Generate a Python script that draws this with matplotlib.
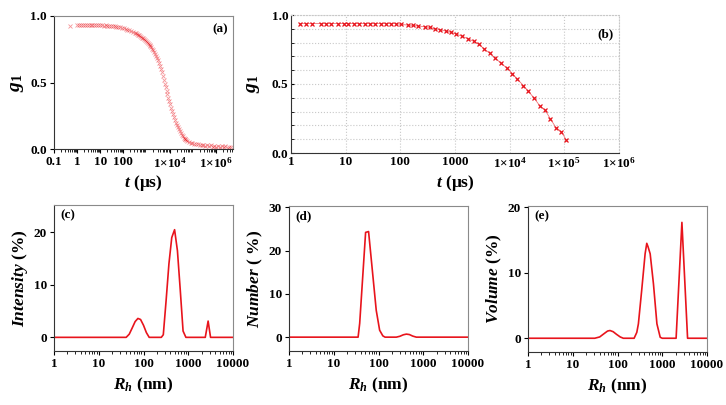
import numpy as np
import matplotlib
matplotlib.use("Agg")
import matplotlib.pyplot as plt
from matplotlib.ticker import FixedLocator, LogLocator, NullFormatter

# fuentes tipo Times
plt.rcParams["font.family"] = ["Liberation Serif", "DejaVu Serif"]
plt.rcParams["font.weight"] = "bold"
plt.rcParams["mathtext.fontset"] = "custom"
plt.rcParams["mathtext.rm"] = "Liberation Serif"
plt.rcParams["mathtext.it"] = "Liberation Serif:italic"
plt.rcParams["mathtext.bf"] = "Liberation Serif:bold"
plt.rcParams["mathtext.bfit"] = "Liberation Serif:bold:italic"

ROJO = "#e8141c"

# (a) funcion de correlacion completa
t_a = [0.5, 1.0, 1.2, 1.5, 1.8, 2.2, 2.6, 3.2, 3.8, 4.6,
       5.5, 6.6, 8, 9.6, 11.5, 14, 17, 20, 24, 29,
       35, 42, 50, 60, 72, 87, 105, 125, 150, 180,
       220, 260, 320, 360,
       400, 440, 480, 530, 580, 640, 700, 770, 850, 930,
       1020, 1120, 1230, 1350, 1480, 1630, 1790, 1970, 2160, 2380,
       2610, 2870, 3150, 3460, 3800, 4180, 4590, 5040, 5540, 6090,
       6690, 7350, 8070, 8870, 9750, 10700, 11800, 12900, 14200, 15600,
       17200, 18900, 20700, 22800, 25000, 27500, 30200, 33200, 36500, 40100,
       44000, 48400, 53200, 58400,
       66000, 80000, 96000, 115000, 140000, 170000, 200000, 240000, 290000,
       350000, 420000, 500000, 600000, 720000, 870000, 1050000, 1250000, 1500000, 1800000,
       2200000, 2600000, 3200000, 3800000, 4600000]
g_a = [0.925, 0.935, 0.933, 0.936, 0.932, 0.934, 0.931, 0.935, 0.932, 0.930,
       0.933, 0.931, 0.932, 0.929, 0.931, 0.928, 0.930, 0.927, 0.928, 0.925,
       0.924, 0.922, 0.920, 0.917, 0.915, 0.912, 0.908, 0.903, 0.898, 0.893,
       0.887, 0.882, 0.874, 0.869,
       0.864, 0.859, 0.855, 0.849, 0.844, 0.838, 0.833, 0.827, 0.821, 0.812,
       0.805, 0.797, 0.789, 0.781, 0.773, 0.764, 0.754, 0.742, 0.730, 0.716,
       0.701, 0.686, 0.668, 0.649, 0.627, 0.604, 0.577, 0.549, 0.520, 0.492,
       0.466, 0.439, 0.413, 0.387, 0.363, 0.339, 0.312, 0.288, 0.264, 0.241,
       0.218, 0.198, 0.180, 0.163, 0.147, 0.133, 0.119, 0.107, 0.095, 0.086,
       0.078, 0.072, 0.066, 0.061,
       0.055, 0.048, 0.043, 0.038, 0.034, 0.036, 0.030, 0.028, 0.033,
       0.025, 0.030, 0.022, 0.028, 0.018, 0.026, 0.015, 0.024, 0.012, 0.022,
       0.014, 0.020, 0.010, 0.018, 0.012]

# (b) ajuste
t_b = [1.44, 1.91, 2.44, 3.47, 4.35, 5.3, 7.2, 9.3, 11.2, 14.2,
       17.8, 22.4, 27.7, 34.7, 44, 54, 67, 83, 103, 136,
       169, 208, 277, 342, 435, 537, 673, 857, 1059, 1365,
       1735, 2207, 2729, 3420, 4345, 5370, 6920, 9050, 11200, 13800,
       17850, 22100, 28400, 35200, 44700, 55200, 70300, 88100, 107400]
g_b = [0.938, 0.938, 0.938, 0.938, 0.938, 0.938, 0.938, 0.938, 0.938, 0.938,
       0.938, 0.938, 0.938, 0.938, 0.938, 0.938, 0.938, 0.938, 0.932, 0.927,
       0.925, 0.920, 0.915, 0.910, 0.901, 0.893, 0.884, 0.874, 0.862, 0.845,
       0.828, 0.809, 0.787, 0.755, 0.722, 0.690, 0.651, 0.613, 0.576, 0.535,
       0.489, 0.446, 0.395, 0.344, 0.310, 0.249, 0.184, 0.155, 0.097]

# (c) intensidad
r_c = [1, 41, 48, 56, 65, 75, 86, 100, 116, 134, 250, 277, 320, 370, 428, 495,
       573, 663, 766, 886, 2400, 2780, 3150, 10000]
i_c = [0, 0, 0.6, 1.8, 3.0, 3.6, 3.4, 2.3, 0.9, 0, 0, 0.5, 7, 14, 19, 20.5,
       16.5, 9, 1.2, 0, 0, 3.1, 0, 0]

# (d) numero
r_d = [1, 35, 38, 51.5, 60, 71.5, 89, 106, 125, 140, 250, 300, 360, 420, 490, 580, 700, 10000]
n_d = [0, 0, 3.2, 24.2, 24.4, 16.3, 6.2, 1.6, 0.3, 0, 0, 0.2, 0.55, 0.7, 0.6, 0.25, 0, 0]

# (e) volumen
r_e = [1, 31, 40, 50, 60, 68, 80, 95, 115, 135, 235, 270, 293, 347, 414, 451,
       480, 537, 636, 760, 900, 1000, 2040, 2750, 3680, 10000]
v_e = [0, 0, 0.2, 0.7, 1.1, 1.18, 1.0, 0.6, 0.2, 0, 0, 0.9, 2.2, 7.3, 12.9, 14.5,
       14.0, 12.9, 8.3, 2.2, 0.15, 0, 0, 17.7, 0, 0]

ticks_r = [1, 10, 100, 1000, 10000]
etiq_r = ["1", "10", "100", "1000", "10000"]

TICK = 9.5
ETQ = 12.5

fig = plt.figure(figsize=(7.26, 4.05), dpi=100)
W, H = 726, 405


def caja(l, t, r, b):
    return fig.add_axes([l / W, (H - b) / H, (r - l) / W, (b - t) / H])


def estilo_base(ax):
    for lado in ["top", "right"]:
        ax.spines[lado].set_color("#8a8a8a")
    for lado in ["left", "bottom"]:
        ax.spines[lado].set_color("#333333")
    ax.tick_params(labelsize=TICK, length=3, width=0.8, direction="out", pad=2)
    ax.tick_params(which="minor", length=1.8, width=0.6, direction="out")
    for lab in ax.get_xticklabels() + ax.get_yticklabels():
        lab.set_fontweight("bold")


def potencia(n):
    return r"$\mathrm{1{\times}10^{%d}}$" % n


ET_T = r"$\mathbfit{t}\ \mathbf{(μs)}$"
ET_G = r"$\mathbfit{g}_{\mathbf{1}}$"
ET_R = r"$\mathbfit{R}_{\mathbfit{h}}\ \mathbf{(nm)}$"

# ---- (a)
ax = caja(54, 16, 233, 149)
ax.plot(t_a, g_a, ls="none", marker="x", ms=3.5, mew=0.6, color=ROJO, alpha=0.45)
ax.set_xscale("log")
ax.set_xlim(0.1, 5.5e6)
ax.set_ylim(0, 1.0)
ax.xaxis.set_major_locator(FixedLocator([0.1, 1, 10, 100, 1e4, 1e6]))
ax.set_xticklabels(["0.1", "1", "10", "100", potencia(4), potencia(6)])
ax.xaxis.set_minor_locator(LogLocator(base=10, subs=np.arange(2, 10), numticks=20))
ax.xaxis.set_minor_formatter(NullFormatter())
ax.set_yticks([0, 0.5, 1.0])
ax.set_yticklabels(["0.0", "0.5", "1.0"])
estilo_base(ax)
ax.set_xlabel(ET_T, fontsize=ETQ, labelpad=2)
ax.set_ylabel(ET_G, fontsize=14, labelpad=3)
ax.text(0.97, 0.9, "(a)", transform=ax.transAxes, ha="right", va="center", fontsize=TICK, fontweight="bold")

# ---- (b)
ax = caja(291, 15, 619, 153)
ax.plot(t_b, g_b, color=ROJO, lw=0.6, alpha=0.6)
ax.plot(t_b, g_b, ls="none", marker="x", ms=3.5, mew=0.9, color=ROJO)
ax.set_xscale("log")
ax.set_xlim(1, 1e6)
ax.set_ylim(0, 1.0)
ax.xaxis.set_major_locator(FixedLocator([1, 10, 100, 1000, 1e4, 1e5, 1e6]))
ax.set_xticklabels(["1", "10", "100", "1000", potencia(4), potencia(5), potencia(6)])
ax.xaxis.set_minor_formatter(NullFormatter())
ax.set_yticks([0, 0.5, 1.0])
ax.set_yticklabels(["0.0", "0.5", "1.0"])
ax.yaxis.set_minor_locator(FixedLocator([0.1, 0.2, 0.3, 0.4, 0.6, 0.7, 0.8, 0.9]))
ax.grid(True, which="major", color="#c8c8c8", ls=":", lw=0.8)
ax.grid(True, which="minor", axis="y", color="#c8c8c8", ls=":", lw=0.8)
estilo_base(ax)
for lado in ["top", "right"]:
    ax.spines[lado].set_color("#c8c8c8")
    ax.spines[lado].set_linestyle(":")
ax.tick_params(direction="in", length=2.5)
ax.tick_params(which="minor", direction="in", length=2)
ax.tick_params(axis="x", which="both", length=0)
ax.set_xlabel(ET_T, fontsize=ETQ, labelpad=2)
ax.set_ylabel(ET_G, fontsize=14, labelpad=7)
ax.text(0.985, 0.86, "(b)", transform=ax.transAxes, ha="right", va="center", fontsize=TICK, fontweight="bold")

# ---- (c), (d), (e)
paneles = [
    ((54, 205, 233, 351), r_c, i_c, (-2.6, 25.2), [0, 10, 20], r"$\mathbfit{Intensity}\ \mathbf{(\%)}$", "(c)"),
    ((289, 206, 468, 351), r_d, n_d, (-3.2, 30.3), [0, 10, 20, 30], r"$\mathbfit{Number}\ \mathbf{(\ \%)}$", "(d)"),
    ((528, 206, 707, 352), r_e, v_e, (-2.1, 20.2), [0, 10, 20], r"$\mathbfit{Volume}\ \mathbf{(\%)}$", "(e)"),
]
for (l, t, r, b), xs, ys, lims, yt, etiqueta, letra in paneles:
    ax = caja(l, t, r, b)
    ax.plot(xs, ys, color=ROJO, lw=1.2)
    ax.set_xscale("log")
    ax.set_xlim(1, 10000)
    ax.set_ylim(*lims)
    ax.set_xticks(ticks_r)
    ax.set_xticklabels(etiq_r)
    ax.xaxis.set_minor_locator(LogLocator(base=10, subs=np.arange(2, 10), numticks=20))
    ax.xaxis.set_minor_formatter(NullFormatter())
    ax.set_yticks(yt)
    estilo_base(ax)
    ax.set_xlabel(ET_R, fontsize=ETQ, labelpad=4)
    ax.set_ylabel(etiqueta, fontsize=ETQ, labelpad=3)
    ax.text(0.035, 0.93, letra, transform=ax.transAxes, ha="left", va="center", fontsize=TICK, fontweight="bold")

fig.savefig("out.png", dpi=100)
